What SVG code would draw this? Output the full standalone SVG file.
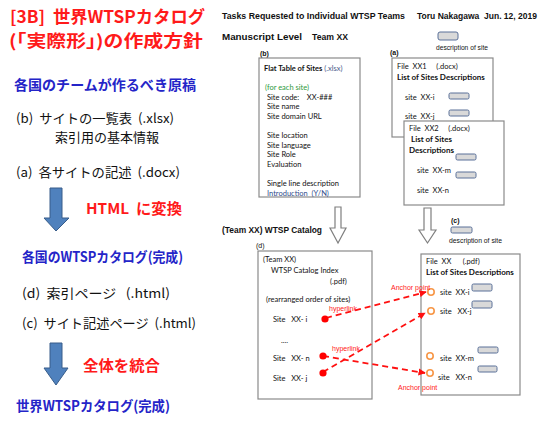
<svg xmlns="http://www.w3.org/2000/svg" width="546" height="427" viewBox="0 0 546 427">
<style>
text{white-space:pre}
.jp{font-family:"Noto Sans CJK JP","Noto Sans",sans-serif}
.red{fill:#FF1A1A;font-weight:bold}
.blue{fill:#2424C8;font-weight:bold}
.blk{fill:#111}
.hd{font-family:"Liberation Sans",Arial,sans-serif;font-weight:bold;font-size:8.5px;fill:#111}
.t{font-family:Lato,"Liberation Sans",sans-serif;font-size:7.5px;fill:#111}
.tb{font-family:Lato,"Liberation Sans",sans-serif;font-size:8px;font-weight:bold;fill:#111}
.sm{font-family:"Liberation Sans",Arial,sans-serif;font-size:6.5px;fill:#111}
.lbl{font-family:"Liberation Sans",Arial,sans-serif;font-size:7px;fill:#111}
.box{fill:#fff;stroke:#8a8a8a;stroke-width:1.2}
.chip{fill:#D9D9D9;stroke:#5A7099;stroke-width:1}
.hollow{fill:#fff;stroke:#7f7f7f;stroke-width:1.2}
.barrow{fill:#4F81BD;stroke:#385D8A;stroke-width:1}
.link{stroke:#FF1010;stroke-width:1.8;stroke-dasharray:6,4;fill:none}
.dot{fill:#FF0000}
.anc{fill:none;stroke:#F79646;stroke-width:1.6}
.rtxt{font-family:"Liberation Sans",Arial,sans-serif;font-size:7px;fill:#FF2020}
</style>
<defs>
<marker id="ah" viewBox="0 0 10 10" refX="9" refY="5" markerWidth="4" markerHeight="4" orient="auto" markerUnits="strokeWidth">
<path d="M0,0 L10,5 L0,10 z" fill="#FF1010"/>
</marker>
</defs>
<g id="left-title">
<text class="jp red" x="10" y="23" font-size="17" textLength="195" lengthAdjust="spacingAndGlyphs">[3B]  世界WTSPカタログ</text>
<text class="jp red" x="9" y="47" font-size="17" textLength="194" lengthAdjust="spacingAndGlyphs">(「実際形」)の作成方針</text>
</g>
<g id="left-manuscript">
<text class="jp blue" x="14" y="90" font-size="14" textLength="182" lengthAdjust="spacingAndGlyphs">各国のチームが作るべき原稿</text>
<text class="jp blk" x="16" y="123" font-size="13" textLength="158" lengthAdjust="spacingAndGlyphs">(b)  サイトの一覧表  (.xlsx)</text>
<text class="jp blk" x="55" y="142" font-size="13" textLength="104" lengthAdjust="spacingAndGlyphs">索引用の基本情報</text>
<text class="jp blk" x="16" y="177" font-size="13" textLength="164" lengthAdjust="spacingAndGlyphs">(a)  各サイトの記述  (.docx)</text>
</g>
<g id="left-arrow1">
<polygon class="barrow" points="50,188 62,188 62,218 69,218 56,231 44,218 50,218"/>
<text class="jp red" x="86" y="214" font-size="15" textLength="96" lengthAdjust="spacingAndGlyphs">HTML  に変換</text>
</g>
<g id="left-catalog">
<text class="jp blue" x="22" y="262" font-size="14" textLength="161" lengthAdjust="spacingAndGlyphs">各国のWTSPカタログ(完成)</text>
<text class="jp blk" x="22" y="298" font-size="13" textLength="148" lengthAdjust="spacingAndGlyphs">(d)  索引ページ   (.html)</text>
<text class="jp blk" x="22" y="328" font-size="13" textLength="174" lengthAdjust="spacingAndGlyphs">(c)  サイト記述ページ  (.html)</text>
</g>
<g id="left-arrow2">
<polygon class="barrow" points="50,343 62,343 62,368 68,368 56,385 44,368 50,368"/>
<text class="jp red" x="83" y="371" font-size="15" textLength="77" lengthAdjust="spacingAndGlyphs">全体を統合</text>
</g>
<g id="left-final">
<text class="jp blue" x="16" y="411" font-size="14" textLength="154" lengthAdjust="spacingAndGlyphs">世界WTSPカタログ(完成)</text>
</g>
<g id="header">
<text class="hd" x="222" y="19" textLength="183" lengthAdjust="spacingAndGlyphs">Tasks Requested to Individual WTSP Teams</text>
<text class="hd" x="417" y="19" textLength="120" lengthAdjust="spacingAndGlyphs">Toru Nakagawa  Jun. 12, 2019</text>
<text class="hd" x="222" y="40" textLength="80" lengthAdjust="spacingAndGlyphs">Manuscript Level</text>
<text class="hd" x="312" y="40" textLength="36" lengthAdjust="spacingAndGlyphs">Team XX</text>
</g>
<g id="legend-top">
<rect class="chip" x="438" y="32" width="20" height="8" rx="2"/>
<text class="sm" x="436" y="50" textLength="52" lengthAdjust="spacingAndGlyphs">description of site</text>
</g>
<g id="box-b">
<text class="lbl" x="260" y="56" font-weight="bold">(b)</text>
<rect class="box" x="259" y="58" width="101" height="139"/>
<text class="t" x="264" y="71"><tspan font-weight="bold">Flat Table of Sites</tspan><tspan fill="#4a5a8a"> (.xlsx)</tspan></text>
<text class="t" x="265" y="90" style="fill:#2E9A3C">(for each site)</text>
<text class="t" x="267" y="100">Site code:    XX-###</text>
<text class="t" x="267" y="109">Site name</text>
<text class="t" x="267" y="119">Site domain URL</text>
<text class="t" x="267" y="138">Site location</text>
<text class="t" x="267" y="148">Site language</text>
<text class="t" x="267" y="157">Site Role</text>
<text class="t" x="267" y="167">Evaluation</text>
<text class="t" x="267" y="186">Single line description</text>
<text class="t" x="267" y="196" style="fill:#2F4C8C">Introduction  (Y/N)</text>
</g>
<g id="box-a1">
<text class="lbl" x="390" y="55" font-weight="bold">(a)</text>
<rect class="box" x="392" y="58" width="101" height="79"/>
<text class="t" x="397" y="69">File  XX1     (.docx)</text>
<text class="tb" x="397" y="80">List of Sites Descriptions</text>
<text class="t" x="405" y="100">site  XX-i</text>
<rect class="chip" x="449" y="93" width="20" height="6" rx="1.5"/>
<text class="t" x="405" y="119">site  XX-j</text>
<rect class="chip" x="449" y="110" width="20" height="6" rx="1.5"/>
</g>
<g id="box-a2">
<rect class="box" x="404" y="121" width="100" height="84"/>
<text class="t" x="409" y="131">File  XX2     (.docx)</text>
<text class="tb" x="411" y="142">List of Sites</text>
<text class="tb" x="409" y="153">Descriptions</text>
<rect class="chip" x="456" y="154" width="20" height="6" rx="1.5"/>
<text class="t" x="417" y="173">site  XX-m</text>
<rect class="chip" x="456" y="172" width="20" height="6" rx="1.5"/>
<text class="t" x="417" y="193">site  XX-n</text>
</g>
<g id="legend-c">
<text class="lbl" x="451" y="223" font-weight="bold">(c)</text>
<rect class="chip" x="451" y="227" width="21" height="6" rx="1.5"/>
<text class="sm" x="449" y="243" textLength="53" lengthAdjust="spacingAndGlyphs">description of site</text>
</g>
<g id="arrow-b">
<polygon class="hollow" points="335,207 341,207 341,228 346,228 338,243 330,228 335,228"/>
</g>
<g id="arrow-a">
<polygon class="hollow" points="424,208 431,208 431,230 436,230 427.5,243 419,230 424,230"/>
</g>
<text class="hd" x="222" y="233" textLength="100" lengthAdjust="spacingAndGlyphs">(Team XX) WTSP Catalog</text>
<g id="box-d">
<text class="lbl" x="256" y="248">(d)</text>
<rect class="box" x="258" y="251" width="114" height="148"/>
<text class="t" x="263" y="262">(Team XX)</text>
<text class="t" x="271" y="273">WTSP Catalog Index</text>
<text class="t" x="330" y="284">(.pdf)</text>
<text class="t" x="266" y="302">(rearranged order of sites)</text>
<text class="t" x="273" y="322">Site   XX- i</text>
<text class="t" x="281" y="343">....</text>
<text class="t" x="273" y="361">Site   XX- n</text>
<text class="t" x="273" y="381">Site   XX- j</text>
</g>
<g id="box-pdf">
<rect class="box" x="421" y="254" width="99" height="141"/>
<text class="t" x="426" y="264">File  XX      (.pdf)</text>
<text class="tb" x="426" y="275">List of Sites Descriptions</text>
<circle class="anc" cx="431" cy="292" r="3.2"/>
<text class="t" x="440" y="295">site  XX-i</text>
<rect class="chip" x="472" y="284" width="20" height="7" rx="1.5"/>
<circle class="anc" cx="431" cy="311" r="3.2"/>
<text class="t" x="440" y="314">site   XX-j</text>
<rect class="chip" x="472" y="301" width="20" height="7" rx="1.5"/>
<circle class="anc" cx="430" cy="356" r="3.2"/>
<text class="t" x="440" y="361">site  XX-m</text>
<rect class="chip" x="478" y="347" width="20" height="6" rx="1.5"/>
<circle class="anc" cx="430" cy="373" r="3.2"/>
<text class="t" x="438" y="380">site   XX-n</text>
<rect class="chip" x="478" y="366" width="19" height="6" rx="1.5"/>
</g>
<g id="connectors">
<path class="link" d="M326,318 L426,292" marker-end="url(#ah)"/>
<path class="link" d="M323,372 L425,313" marker-end="url(#ah)"/>
<path class="link" d="M323,356 L425,373" marker-end="url(#ah)"/>
<circle class="dot" cx="325" cy="319" r="3.6"/>
<circle class="dot" cx="323" cy="356" r="3.6"/>
<circle class="dot" cx="323" cy="373" r="3.6"/>
<text class="rtxt" x="329" y="311">hyperlink</text>
<text class="rtxt" x="332" y="351">hyperlink</text>
<text class="rtxt" x="391" y="290">Anchor point</text>
<text class="rtxt" x="398" y="390">Anchor point</text>
</g>
</svg>
